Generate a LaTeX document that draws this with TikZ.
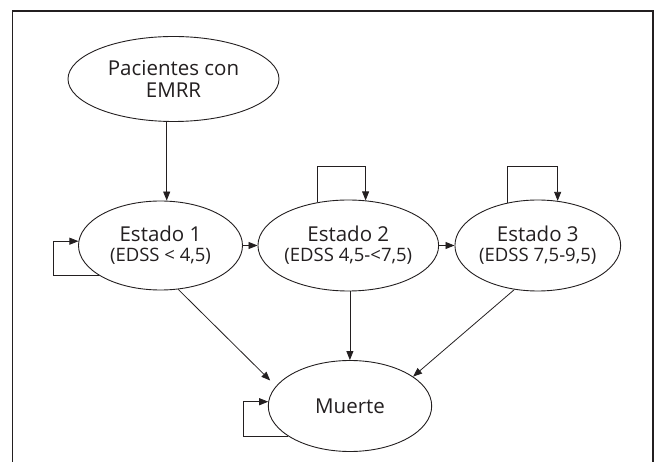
\documentclass[tikz,border=0pt]{standalone}
\usepackage{fontspec}
\setmainfont{Open Sans}
\usetikzlibrary{arrows.meta,shapes.geometric}
\definecolor{ink}{HTML}{231F20}
\begin{document}
\begin{tikzpicture}[x=1pt,y=-1pt,
  st/.style={draw=ink, line width=0.9pt, ellipse, inner sep=0pt, text=ink, align=center,
    font=\fontsize{18.5}{20}\selectfont},
  arr/.style={draw=ink, line width=0.8pt, -{Triangle[length=9pt,width=7pt]}},
  big/.style={font=\fontsize{20.5}{21.5}\selectfont},
]
\useasboundingbox (0,0) rectangle (659,462);
\draw[ink, line width=1.3pt] (12.5,462) -- (12.5,11) -- (653,11) -- (653,462);

\node[st, big, minimum width=211pt, minimum height=85pt] (pac) at (173.5,79) {Pacientes con\\EMRR};
\node[st, minimum width=164pt, minimum height=89pt] (e1) at (160.5,245.5)
  {{\fontsize{20.5}{20}\selectfont Estado 1}\\(EDSS < 4,5)};
\node[st, minimum width=163pt, minimum height=91pt] (e2) at (348.3,245.5)
  {{\fontsize{20.5}{20}\selectfont Estado 2}\\(EDSS 4,5-<7,5)};
\node[st, minimum width=164pt, minimum height=91pt] (e3) at (537.8,245.5)
  {{\fontsize{20.5}{20}\selectfont Estado 3}\\(EDSS 7,5-9,5)};
\node[st, big, minimum width=163.4pt, minimum height=91pt] (mu) at (350,406) {Muerte};

% entry
\draw[arr] (pac.261.3) -- (pac.261.3 |- e1.north);
% horizontal transitions
\draw[arr] (e1.east) -- (e1.east -| e2.west);
\draw[arr] (e2.east) -- (e2.east -| e3.west);
% self loops
\draw[arr] (e1.206) -- ++(-45.7,0) |- (e1.177);
\draw[arr] (e2.126.7) -- ++(0,-36.3) -| (e2.69.8);
\draw[arr] (e3.125.5) -- ++(0,-36.6) -| (e3.66.9);
\draw[arr] (mu.206) -- ++(-44.9,0) |- (mu.177);
% to death
\draw[arr, shorten >=8pt] (e1.292.6) -- (mu.165.6);
\draw[arr] (e2.-88) -- (e2.-88 |- mu.north);
\draw[arr] (e3.242.8) -- (mu.25.5);
\end{tikzpicture}
\end{document}
